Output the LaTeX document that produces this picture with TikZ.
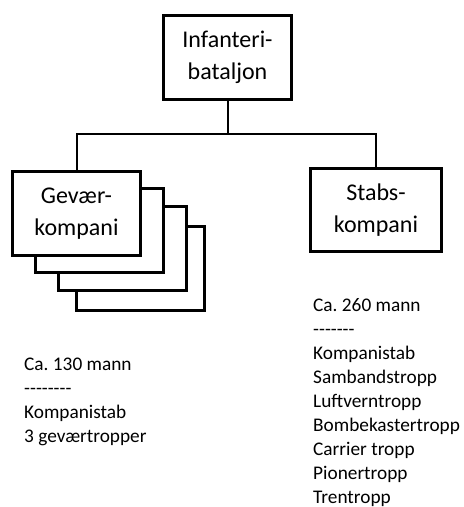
\documentclass[tikz,border=0pt]{standalone}
\usepackage{fontspec}
\setmainfont{Carlito}
\frenchspacing
\begin{document}
\begin{tikzpicture}[x=1pt,y=-1pt,
  unitbox/.style={draw, line width=3pt, fill=white, align=center, inner sep=0pt,
    font=\fontsize{24}{32}\selectfont},
  conn/.style={line width=2pt},
  notes/.style={anchor=north west, align=left, inner sep=0pt,
    font=\fontsize{19.3}{24}\selectfont}]
\useasboundingbox (0,0) rectangle (464,507);
% stacked rifle companies (back to front)
\node[unitbox, minimum width=128pt, minimum height=84pt] (gev4) at (140,268) {};
\node[unitbox, minimum width=128pt, minimum height=84pt] (gev3) at (122,248.5) {};
\node[unitbox, minimum width=128pt, minimum height=84pt] (gev2) at (99,230.5) {};
\node[unitbox, minimum width=128pt, minimum height=84pt] (gev) at (76.5,213.5) {Gevær-\\kompani};
\node[unitbox, minimum width=128pt, minimum height=84pt] (top) at (227.5,57.5) {Infanteri-\\bataljon};
\node[unitbox, minimum width=131pt, minimum height=83pt] (stab) at (376,210) {Stabs-\\kompani};
\draw[conn] (top.south) -- ++(0,33) -| (gev.north);
\draw[conn] (top.south) -- ++(0,33) -| (stab.north);
\node[notes] (left) at (24,358) {Ca. 130 mann\\-{}-{}-{}-{}-{}-{}-{}-\\Kompanistab\\3 geværtropper};
\node[notes] (right) at (313,298) {Ca. 260 mann\\-{}-{}-{}-{}-{}-{}-\\Kompanistab\\Sambandstropp\\Luftverntropp\\Bombekastertropp\\Carrier tropp\\Pionertropp\\Trentropp};
\end{tikzpicture}
\end{document}
